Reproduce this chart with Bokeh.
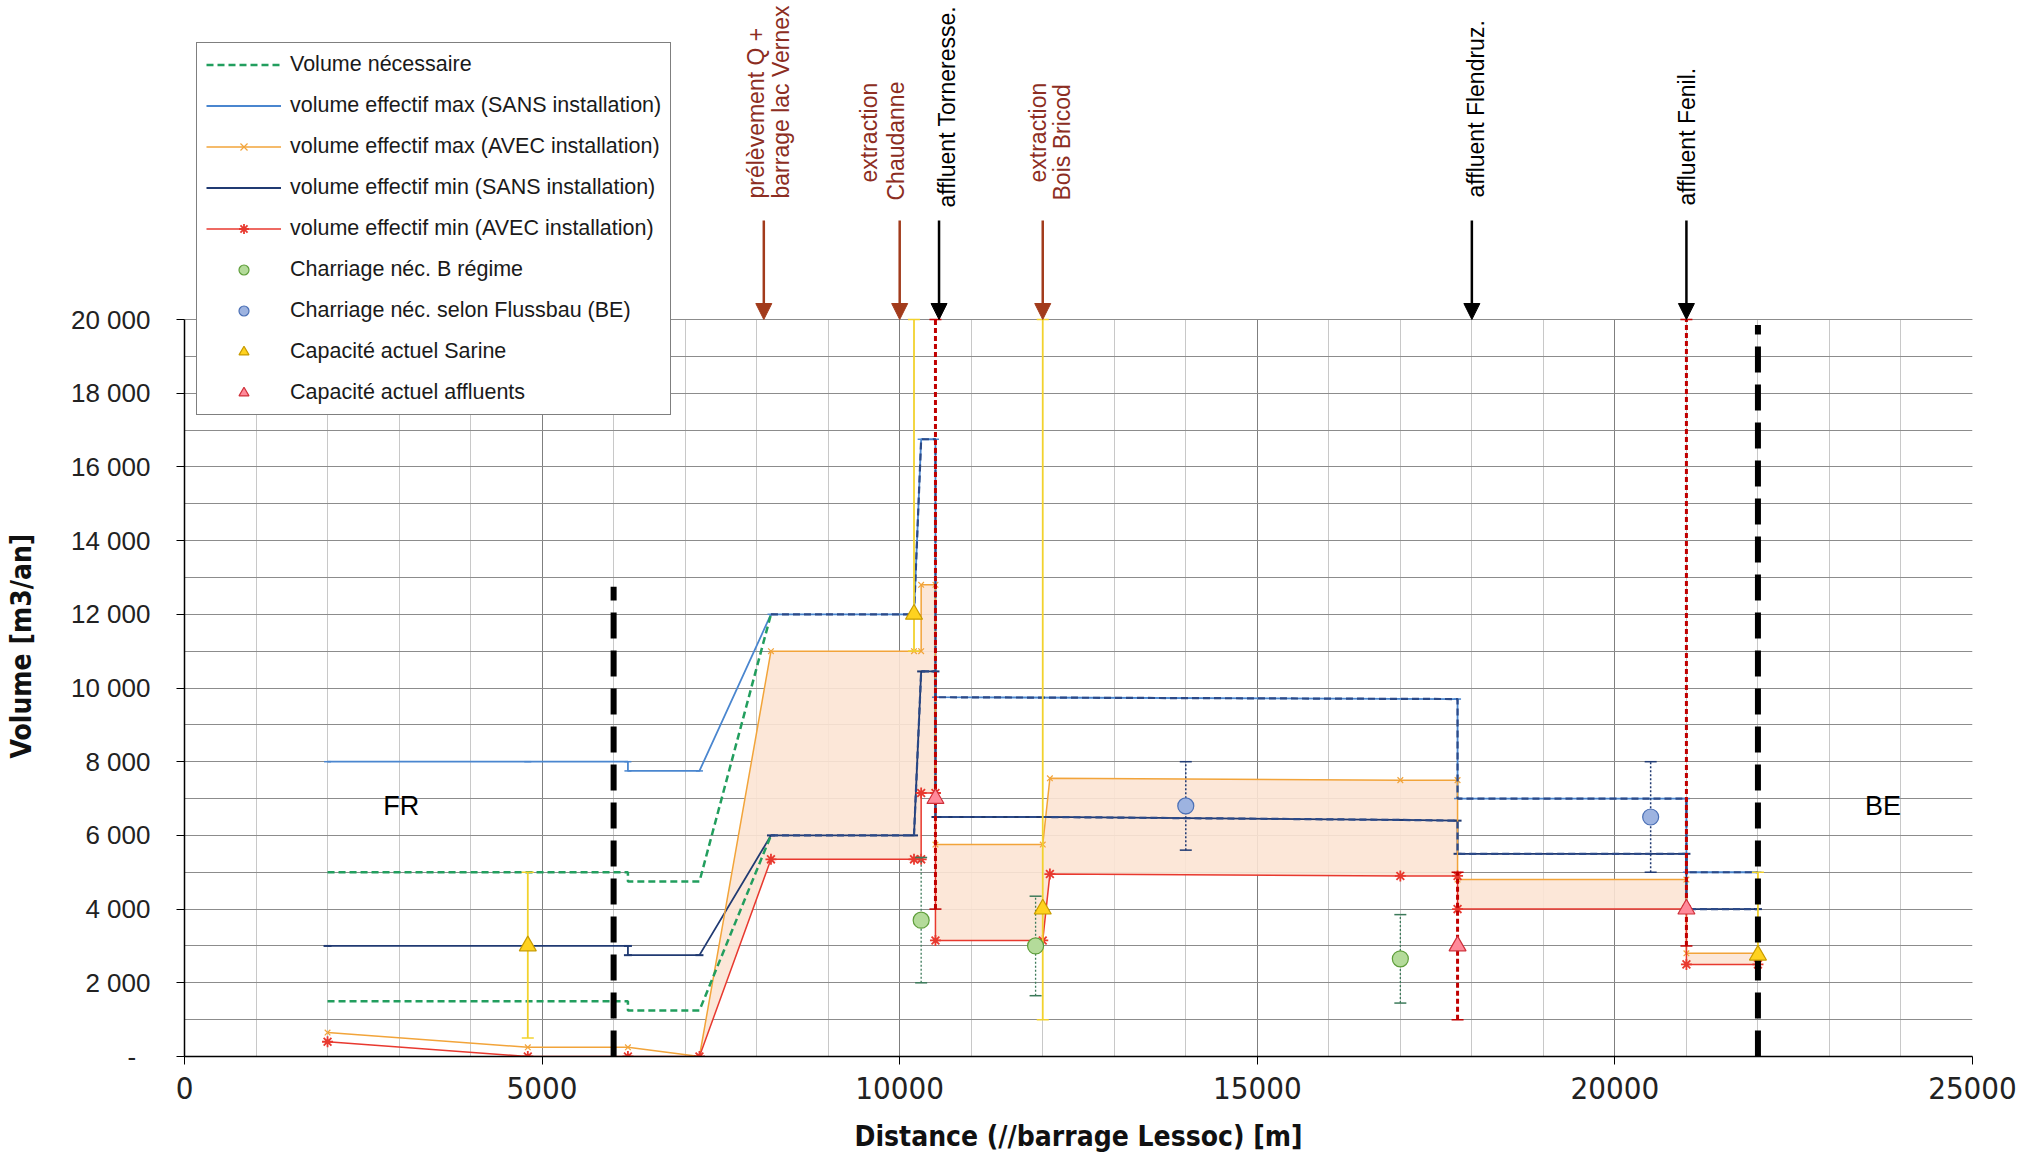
from bokeh.plotting import figure
from bokeh.models import (Range1d, FixedTicker, Legend, LegendItem, Arrow, NormalHead,
                          Label, Grid, Title)
from bokeh.core.properties import value
from bokeh.embed import file_html
from bokeh.resources import INLINE

# ---------------- data ----------------
nec_high_x = [2000, 6200, 6200, 7200, 8200, 10200, 10300, 10500, 10500, 17800, 17800, 21000, 21000, 22000]
nec_high_y = [5000, 5000, 4750, 4750, 12000, 12000, 16750, 16750, 9750, 9700, 7000, 7000, 5000, 5000]
nec_low_x = [2000, 6200, 6200, 7200, 8200, 10200, 10300, 10500, 10500, 12000, 17000, 17800, 17800, 21000, 21000, 22000]
nec_low_y = [1500, 1500, 1250, 1250, 6000, 6000, 10450, 10450, 6500, 6500, 6420, 6400, 5500, 5500, 4000, 4000]

max_sans_x = [2000, 4800, 6200, 6200, 7200, 8200, 10200, 10300, 10500, 10500, 17800, 17800, 21000, 21000, 22000]
max_sans_y = [8000, 8000, 8000, 7750, 7750, 12000, 12000, 16750, 16750, 9750, 9700, 7000, 7000, 5000, 5000]

min_sans_x = [2000, 4800, 6200, 6200, 7200, 8200, 10200, 10300, 10500, 10500, 12000, 17000, 17800, 17800, 21000, 21000, 22000]
min_sans_y = [3000, 3000, 3000, 2750, 2750, 6000, 6000, 10450, 10450, 6500, 6500, 6420, 6400, 5500, 5500, 4000, 4000]

max_avec_x = [2000, 4800, 6200, 7200, 8200, 10200, 10300, 10300, 10500, 10500, 12000, 12100, 17000, 17800, 17800, 21000, 21000, 22000]
max_avec_y = [650, 250, 250, 0, 11000, 11000, 11000, 12800, 12800, 5750, 5750, 7550, 7500, 7500, 4800, 4800, 2800, 2800]

min_avec_x = [2000, 4800, 6200, 7200, 8200, 10200, 10300, 10300, 10500, 10500, 12000, 12100, 17000, 17800, 17800, 21000, 21000, 22000]
min_avec_y = [400, 0, 0, 0, 5350, 5350, 5350, 7150, 7150, 3150, 3150, 4950, 4900, 4900, 4000, 4000, 2500, 2500]

b_regime_x = [10300, 11900, 17000]
b_regime_y = [3700, 3000, 2650]
b_regime_lo = [2000, 1650, 1450]
b_regime_hi = [5400, 4350, 3850]

flussbau_x = [14000, 20500]
flussbau_y = [6800, 6500]
flussbau_lo = [5600, 5000]
flussbau_hi = [8000, 8000]

sarine_x = [4800, 10200, 12000, 22000]
sarine_y = [3000, 12000, 4000, 2750]
sarine_lo = [500, 11000, 1000, 2750]
sarine_hi = [5000, 20000, 20000, 5000]

affl_x = [10500, 17800, 21000]
affl_y = [7000, 3000, 4000]
affl_lo = [4000, 1000, 3000]
affl_hi = [20000, 5000, 20000]

border_x = [6000, 22000]
border_bottom = [0, 0]
border_top = [12750, 19850]

region_names = ["FR", "BE"]
region_x = [3030, 23750]
region_y = [6800, 6800]

event_x = [8100, 10000, 10550, 12000, 18000, 21000]
event_kind = ["prelevement", "extraction", "affluent", "extraction", "affluent", "affluent"]
event_lines = [["prélèvement Q +", "barrage lac Vernex"], ["extraction", "Chaudanne"],
               ["affluent Torneresse."], ["extraction", "Bois Bricod"],
               ["affluent Flendruz."], ["affluent Fenil."]]

x_ticks = [0, 5000, 10000, 15000, 20000, 25000]
x_tick_labels = ["0", "5000", "10000", "15000", "20000", "25000"]
x_minor = [0, 1000, 2000, 3000, 4000, 5000, 6000, 7000, 8000, 9000, 10000, 11000, 12000,
           13000, 14000, 15000, 16000, 17000, 18000, 19000, 20000, 21000, 22000, 23000, 24000, 25000]
y_ticks = [0, 2000, 4000, 6000, 8000, 10000, 12000, 14000, 16000, 18000, 20000]
y_tick_labels = ["-\u00a0\u00a0", "2 000", "4 000", "6 000", "8 000", "10 000", "12 000", "14 000", "16 000", "18 000", "20 000"]
y_minor = [0, 1000, 2000, 3000, 4000, 5000, 6000, 7000, 8000, 9000, 10000, 11000, 12000,
           13000, 14000, 15000, 16000, 17000, 18000, 19000, 20000]

# ---------------- styles / layout ----------------
FW = 1788          # plot width in px
PH = 737           # height of the 0..20000 area in px
TOP_PX = 319       # room above the 20000 line (arrows, labels, legend)
FH = PH + TOP_PX
Y_MAX = 20000
X_MAX = 25000
PX = PH / Y_MAX
Y_TOP = Y_MAX * FH / PH

C_GREEN = "#229E5E"
C_BLUE = "#4A86CF"
C_DASHBLUE = "#2C4A88"
C_NAVY = "#203A72"
C_ORANGE = "#F2A43A"
C_RED = "#E8392F"
C_FILL = "#FCE4D4"
C_BROWN = "#A23B1C"
C_BROWN_TXT = "#8C2D22"
NARROW = "'Liberation Sans Narrow', 'DejaVu Sans Condensed', 'Liberation Sans', sans-serif"

p = figure(frame_width=FW, frame_height=FH,
           x_range=Range1d(0, X_MAX), y_range=Range1d(0, Y_TOP),
           output_backend="svg", toolbar_location=None,
           min_border_left=184, min_border_right=47, min_border_top=0, min_border_bottom=98,
           background_fill_color="white", border_fill_color="white")
p.outline_line_color = None

# axes
p.xaxis.ticker = FixedTicker(ticks=x_ticks, minor_ticks=x_minor)
p.yaxis.ticker = FixedTicker(ticks=y_ticks, minor_ticks=y_minor)
p.xaxis.major_label_overrides = {t: l for t, l in zip(x_ticks, x_tick_labels)}
p.yaxis.major_label_overrides = {t: l for t, l in zip(y_ticks, y_tick_labels)}
p.yaxis.bounds = (0, Y_MAX)
for ax in (p.xaxis[0], p.yaxis[0]):
    ax.axis_line_color = "black"
    ax.axis_line_width = 1.5
    ax.major_tick_line_color = "black"
    ax.major_tick_out = 8
    ax.major_tick_in = 0
    ax.minor_tick_line_color = None
    ax.major_label_text_color = "#222222"
p.xaxis.major_label_text_font = NARROW
p.xaxis.major_label_text_font_size = "31px"
p.xaxis.major_label_standoff = 12
p.xaxis.axis_label = "Distance (//barrage Lessoc) [m]"
p.xaxis.axis_label_standoff = 18
p.xaxis.axis_label_text_font_style = "bold"
p.xaxis.axis_label_text_font = NARROW
p.xaxis.axis_label_text_font_size = "28px"
p.xaxis.axis_label_text_color = "#111111"
p.yaxis.major_label_text_font = "Liberation Sans"
p.yaxis.major_label_text_font_size = "26px"
p.yaxis.major_label_standoff = 26
# small spacer between tick labels and the y title
p.yaxis.axis_label = "\u00a0"
p.yaxis.axis_label_text_font_size = "2px"
p.yaxis.axis_label_standoff = 25

# y title: placed along the 0..20000 part of the axis
p.add_layout(Title(text="Volume [m3/an]", align="left", offset=298, vertical_align="bottom",
                   standoff=0, text_font=NARROW, text_font_size="28px", text_font_style="bold",
                   text_color="#111111"), "left")

p.xgrid.grid_line_color = "#7F7F7F"
p.xgrid.minor_grid_line_color = "#C8C8C8"
p.ygrid.grid_line_color = "#8C8C8C"
p.ygrid.minor_grid_line_color = "#8C8C8C"
p.ygrid.bounds = (0, Y_MAX)
p.xgrid.bounds = (0, X_MAX)
if "cross_bounds" in Grid.properties():
    p.xgrid.cross_bounds = (0, Y_MAX)
    p.ygrid.cross_bounds = (0, X_MAX)
else:
    p.quad(left=[0], right=[X_MAX], bottom=[Y_MAX + 1], top=[Y_TOP], fill_color="white", line_color=None)

# fill between AVEC max and min (from the start of the rise)
i0 = max_avec_x.index(7200)
fill_x = max_avec_x[i0:] + min_avec_x[i0:][::-1]
fill_y = max_avec_y[i0:] + min_avec_y[i0:][::-1]
p.patch(fill_x, fill_y, fill_color=C_FILL, fill_alpha=0.9, line_color=None)

# effective volume lines
l_max_sans = p.line(max_sans_x, max_sans_y, line_color=C_BLUE, line_width=1.8)
m_max_sans = p.scatter(max_sans_x, max_sans_y, marker="dash", size=7, line_color=C_BLUE, line_width=1.5)
l_min_sans = p.line(min_sans_x, min_sans_y, line_color=C_NAVY, line_width=1.8)
m_min_sans = p.scatter(min_sans_x, min_sans_y, marker="dash", size=8, line_color=C_NAVY, line_width=2)
l_max_avec = p.line(max_avec_x, max_avec_y, line_color=C_ORANGE, line_width=1.5)
m_max_avec = p.scatter(max_avec_x, max_avec_y, marker="x", size=8, line_color=C_ORANGE, line_width=1.2)
l_min_avec = p.line(min_avec_x, min_avec_y, line_color=C_RED, line_width=1.5)
m_min_avec = p.scatter(min_avec_x, min_avec_y, marker="asterisk", size=11, line_color=C_RED, line_width=1.8)

# necessary volume (dashed): green up to the reach where it joins the SANS curves
kh = nec_high_x.index(8200)
kl = nec_low_x.index(8200)
l_nec_hi = p.line(nec_high_x[:kh + 1], nec_high_y[:kh + 1], line_color=C_GREEN, line_width=2.5, line_dash="7 4")
p.line(nec_low_x[:kl + 1], nec_low_y[:kl + 1], line_color=C_GREEN, line_width=2.5, line_dash="7 4")
p.line(nec_high_x[kh:], nec_high_y[kh:], line_color=C_DASHBLUE, line_width=2.2, line_dash="7 4")
p.line(nec_low_x[kl:], nec_low_y[kl:], line_color=C_DASHBLUE, line_width=2.2, line_dash="7 4")

# error bars + caps
def bars(xs, lo, hi, color, width, dash, cap):
    p.segment(xs, lo, xs, hi, line_color=color, line_width=width, line_dash=dash)
    p.scatter(xs + xs, lo + hi, marker="dash", size=cap, line_color=color, line_width=1.5)

bars(sarine_x, sarine_lo, sarine_hi, "#F2D22E", 1.8, "solid", 12)
bars(b_regime_x, b_regime_lo, b_regime_hi, "#3C7A5A", 1.3, "2 2", 12)
bars(flussbau_x, flussbau_lo, flussbau_hi, C_NAVY, 1.5, "2 2", 12)
bars(affl_x, affl_lo, affl_hi, "#C00000", 3, "5 3", 12)

# country boundaries
p.segment(border_x, border_bottom, border_x, border_top, line_color="black", line_width=6, line_dash="26 12")

# point series
s_breg = p.scatter(b_regime_x, b_regime_y, marker="circle", size=16, fill_color="#B4DB9A", line_color="#5E9E3A", line_width=1.2)
s_flus = p.scatter(flussbau_x, flussbau_y, marker="circle", size=16, fill_color="#9DB3E0", line_color="#4A6FB5", line_width=1.2)
s_sar = p.scatter(sarine_x, sarine_y, marker="triangle", size=17, fill_color="#FFD21F", line_color="#C89B00", line_width=1.2)
s_aff = p.scatter(affl_x, affl_y, marker="triangle", size=17, fill_color="#FF8A9A", line_color="#D0303A", line_width=1.2)

# region labels
p.text(region_x, region_y, text=region_names, text_font=value("Liberation Sans"), text_font_size="27px",
       text_align="center", text_baseline="middle", text_color="black")

# events above the plot: arrows and rotated labels
arrow_len_px = 99
for ex, kind in zip(event_x, event_kind):
    col = "black" if kind == "affluent" else C_BROWN
    p.add_layout(Arrow(x_start=ex, y_start=Y_MAX + arrow_len_px / PX, x_end=ex, y_end=Y_MAX,
                       line_color=col, line_width=2.5,
                       end=NormalHead(size=16, fill_color=col, line_color=col)))

# per line: (x offset px, text start px above the 20000 line)
line_layout = [[(-8, 121), (17, 121)], [(-31, 137), (-4, 119)], [(8, 112)],
               [(-5, 137), (19, 119)], [(4, 122)], [(1, 114)]]
for ex, kind, lines, lay in zip(event_x, event_kind, event_lines, line_layout):
    col = "black" if kind == "affluent" else C_BROWN_TXT
    for txt, (dx, up) in zip(lines, lay):
        p.add_layout(Label(x=ex, y=Y_MAX, x_offset=dx, y_offset=up, text=txt, angle=90, angle_units="deg",
                           text_align="left", text_baseline="middle", text_font="Liberation Sans",
                           text_font_size="23px", text_color=col))

# legend
legend = Legend(items=[
    LegendItem(label="Volume nécessaire", renderers=[l_nec_hi]),
    LegendItem(label="volume effectif max (SANS installation)", renderers=[l_max_sans, m_max_sans]),
    LegendItem(label="volume effectif max (AVEC installation)", renderers=[l_max_avec, m_max_avec]),
    LegendItem(label="volume effectif min (SANS installation)", renderers=[l_min_sans, m_min_sans]),
    LegendItem(label="volume effectif min (AVEC installation)", renderers=[l_min_avec, m_min_avec]),
    LegendItem(label="Charriage néc. B régime", renderers=[s_breg]),
    LegendItem(label="Charriage néc. selon Flussbau (BE)", renderers=[s_flus]),
    LegendItem(label="Capacité actuel Sarine", renderers=[s_sar]),
    LegendItem(label="Capacité actuel affluents", renderers=[s_aff]),
], location=(12, 641))
legend.label_text_font = "Liberation Sans"
legend.label_text_font_size = "21.5px"
legend.label_text_color = "#1a1a1a"
legend.glyph_width = 75
legend.glyph_height = 25
legend.label_height = 25
legend.spacing = 16
legend.padding = 9
legend.margin = 0
legend.label_standoff = 9
legend.border_line_color = "black"
legend.border_line_width = 1
legend.background_fill_color = "white"
legend.background_fill_alpha = 1
p.add_layout(legend)

open("out.html", "w").write(file_html(p, INLINE))
